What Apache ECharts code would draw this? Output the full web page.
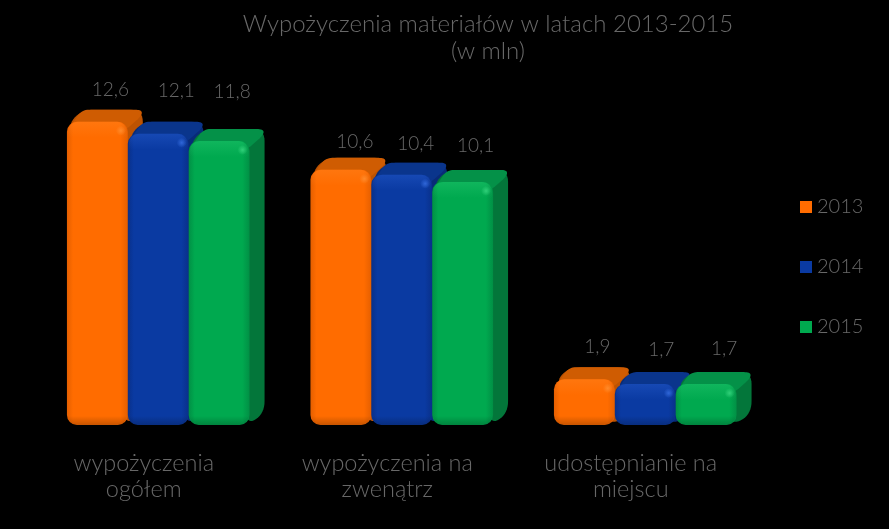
<!DOCTYPE html>
<html><head><meta charset="utf-8">
<style>html,body{margin:0;padding:0;background:#000}#c{width:889px;height:529px}</style>
<script src="https://cdn.jsdelivr.net/npm/echarts@6/dist/echarts.min.js"></script>
</head><body><div id="c"></div>
<script>
const categories = ['wypożyczenia\nogółem', 'wypożyczenia na\nzwenątrz', 'udostępnianie na\nmiejscu'];
const years = ['2013', '2014', '2015'];
const values2013 = [12.6, 10.6, 1.9];
const values2014 = [12.1, 10.4, 1.7];
const values2015 = [11.8, 10.1, 1.7];
const titleText = 'Wypożyczenia materiałów w latach 2013-2015\n(w mln)';

const FONT = 'Lato, "Open Sans", sans-serif';
const TEXT = '#686868';
const WEIGHT = 300;
const palettes = [
  {front:'#ff6c00', edge:'#e55f00', light:'#ff8a2a', top:'#cf5c02', side:'#bd5302'},
  {front:'#0a3aa2', edge:'#09308a', light:'#2f66d8', top:'#0a358c', side:'#082b78'},
  {front:'#00a94f', edge:'#019045', light:'#2fcf78', top:'#049148', side:'#03763a'}
];
// hand-placed value label nudges in the reference [dx, dy from bar top], per series/category
const labelNudge = [
  [[13,-32],[14,-28],[13,-32]],
  [[18,-43],[14,-31],[16,-34]],
  [[13,-49],[13,-36],[18,-35]]
];

function roundPoly(pts, r){
  const out=[]; const n=pts.length;
  for(let i=0;i<n;i++){
    const p=pts[i], a=pts[(i+n-1)%n], b=pts[(i+1)%n];
    const la=Math.hypot(a[0]-p[0],a[1]-p[1]), lb=Math.hypot(b[0]-p[0],b[1]-p[1]);
    const ra=Math.min(r,la/2), rb=Math.min(r,lb/2);
    const s=[p[0]+(a[0]-p[0])*ra/la,p[1]+(a[1]-p[1])*ra/la];
    const e=[p[0]+(b[0]-p[0])*rb/lb,p[1]+(b[1]-p[1])*rb/lb];
    for(let t=0;t<=8;t++){
      const u=t/8,v=1-u;
      out.push([v*v*s[0]+2*v*u*p[0]+u*u*e[0],v*v*s[1]+2*v*u*p[1]+u*u*e[1]]);
    }
  }
  return out;
}
function grad(x0,y0,x1,y1,stops){return {type:'linear',x:x0,y:y0,x2:x1,y2:y1,colorStops:stops.map(s=>({offset:s[0],color:s[1]}))};}

function renderBar(params, api){
  const si=params.seriesIndex, di=params.dataIndex, pal=palettes[si];
  const cat=api.value(0), val=api.value(1);
  const p=api.coord([cat,val]), base=api.coord([cat,0]);
  const band=api.size([1,0])[0];
  const w=band*0.25, shift=14;
  const x=p[0]+shift+(si-1)*w-w/2+0.5, y=p[1], h=base[1]-p[1];
  const dx=15, dy=-12, r=10;
  const hull=roundPoly([[x+1,y+3],[x+dx,y+dy],[x+w+dx,y+dy],[x+w+dx,y+h+dy],[x+w-2,y+h]],12);
  const top=roundPoly([[x+1,y+8],[x+dx,y+dy],[x+w+dx-1,y+dy],[x+w+dx-1,y+dy+6],[x+w-3,y+9]],7);
  const nudge=labelNudge[si][di];
  return {type:'group',children:[
    {type:'polygon',shape:{points:hull},style:{fill:pal.side}},
    {type:'polygon',shape:{points:top},style:{fill:pal.top}},
    {type:'rect',shape:{x,y,width:w,height:h,r},style:{fill:grad(0,0,1,0,[[0,pal.edge],[0.1,pal.front],[0.88,pal.front],[1,pal.edge]])}},
    {type:'rect',shape:{x:x+1,y,width:w-2,height:Math.min(16,h/2),r:[r,r,0,0]},style:{fill:grad(0,0,0,1,[[0,pal.light+'55'],[1,pal.light+'00']])}},
    {type:'rect',shape:{x:x+1,y:y+h-9,width:w-2,height:9,r:[0,0,r,r]},style:{fill:grad(0,0,0,1,[[0,'rgba(0,0,0,0)'],[1,'rgba(0,0,0,0.22)']])}},
    {type:'circle',shape:{cx:x+w-7,cy:y+9,r:5},style:{fill:{type:'radial',x:.5,y:.5,r:.5,colorStops:[{offset:0,color:pal.light},{offset:1,color:pal.light+'00'}]}}},
    {type:'text',x:x+w/2+nudge[0],y:y+nudge[1],style:{text:String(val).replace('.',','),fill:TEXT,font:WEIGHT+' 19px '+FONT,align:'center',verticalAlign:'middle'}}
  ]};
}

const seriesValues=[values2013,values2014,values2015];
const chart=echarts.init(document.getElementById('c'));
chart.setOption({
  backgroundColor:'#000',
  animation:false,
  title:{text:titleText,left:483,top:6,textAlign:'center',textStyle:{color:TEXT,fontSize:24,fontWeight:WEIGHT,fontFamily:FONT,lineHeight:27}},
  legend:{orient:'vertical',left:795,top:192,itemWidth:12,itemHeight:12,itemGap:40,icon:'rect',
    textStyle:{color:TEXT,fontSize:20,fontWeight:WEIGHT,fontFamily:FONT},data:years},
  grid:{left:22,width:730.5,top:88,height:337},
  xAxis:{type:'category',data:categories,axisLine:{show:false},axisTick:{show:false},
    axisLabel:{color:TEXT,fontSize:23.5,fontWeight:WEIGHT,fontFamily:FONT,lineHeight:26,margin:25,interval:0}},
  yAxis:{type:'value',min:0,max:14,show:false},
  series:years.map((y,i)=>({
    name:y,type:'custom',renderItem:renderBar,
    itemStyle:{color:palettes[i].front},
    encode:{x:0,y:1},
    data:seriesValues[i].map((v,k)=>[k,v])
  }))
});
</script></body></html>
